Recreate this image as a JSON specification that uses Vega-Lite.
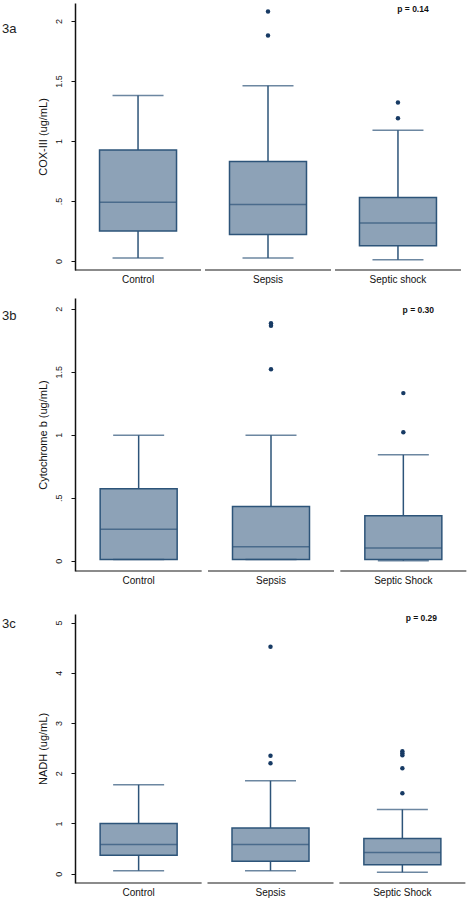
{
  "$schema": "https://vega.github.io/schema/vega-lite/v6.json",
  "padding": {"left": 2, "top": 3, "right": 4, "bottom": 2},
  "config": {
    "view": {"stroke": null},
    "font": "Liberation Sans",
    "axis": {"grid": false},
    "axisY": {"domainColor": "#111", "domainWidth": 1.5, "tickColor": "#111", "tickSize": 4, "tickWidth": 1, "labelAngle": -90, "labelFontSize": 9, "labelColor": "#111", "labelPadding": 8, "titleFontSize": 11, "titleFontWeight": "normal", "titleColor": "#111", "titlePadding": 6},
    "axisX": {"domain": false, "ticks": false, "tickSize": 0, "labelFontSize": 10, "labelColor": "#111", "labelPadding": 4, "labelAngle": 0},
    "title": {"fontSize": 13, "fontWeight": "normal", "color": "#222", "anchor": "start", "frame": "bounds", "offset": 0, "baseline": "middle"}
  },
  "spacing": 28,
  "vconcat": [
    {
      "spacing": 14,
      "vconcat": [
        {
          "width": 386, "height": 267,
          "title": {"text": "3a", "dx": -35, "dy": 37},
          "encoding": {"x": {"field": "group", "type": "nominal", "title": null, "scale": {"domain": ["Control", "Sepsis", "Septic shock"], "paddingInner": 0.03, "paddingOuter": 0}}},
          "layer": [
            {
              "data": {"values": [
                {"group": "Control", "lo": 0.025, "q1": 0.25, "med": 0.49, "q3": 0.925, "hi": 1.38},
                {"group": "Sepsis", "lo": 0.025, "q1": 0.22, "med": 0.47, "q3": 0.83, "hi": 1.46},
                {"group": "Septic shock", "lo": 0.01, "q1": 0.128, "med": 0.317, "q3": 0.53, "hi": 1.09}
              ]},
              "layer": [
                {"mark": {"type": "tick", "color": "#222", "thickness": 1.5, "size": 126},
                 "encoding": {"y": {"datum": -0.075, "type": "quantitative", "title": "COX-III (ug/mL)", "scale": {"domain": [-0.075, 2.15], "nice": false, "zero": false}, "axis": {"values": [0, 0.5, 1, 1.5, 2], "labelExpr": "datum.value == 0.5 ? '.5' : format(datum.value, '~g')"}}}},
                {"mark": {"type": "rule", "color": "#2d5479", "strokeWidth": 1.5},
                 "encoding": {"y": {"field": "lo", "type": "quantitative", "title": "COX-III (ug/mL)"}, "y2": {"field": "hi"}}},
                {"mark": {"type": "bar", "size": 77, "fill": "#8da2b7", "stroke": "#2d5479", "strokeWidth": 1.5},
                 "encoding": {"y": {"field": "q1", "type": "quantitative", "title": "COX-III (ug/mL)"}, "y2": {"field": "q3"}}},
                {"mark": {"type": "tick", "color": "#2d5479", "thickness": 1.5, "size": 77},
                 "encoding": {"y": {"field": "med", "type": "quantitative", "title": "COX-III (ug/mL)"}}},
                {"mark": {"type": "tick", "color": "#2d5479", "thickness": 1.5, "size": 51},
                 "encoding": {"y": {"field": "hi", "type": "quantitative", "title": "COX-III (ug/mL)"}}},
                {"mark": {"type": "tick", "color": "#2d5479", "thickness": 1.5, "size": 51},
                 "encoding": {"y": {"field": "lo", "type": "quantitative", "title": "COX-III (ug/mL)"}}}
              ]
            },
            {
              "data": {"values": [
                {"group": "Sepsis", "value": 2.08},
                {"group": "Sepsis", "value": 1.88},
                {"group": "Septic shock", "value": 1.32},
                {"group": "Septic shock", "value": 1.19}
              ]},
              "mark": {"type": "point", "filled": true, "shape": "circle", "size": 20, "color": "#173a64", "opacity": 1},
              "encoding": {"y": {"field": "value", "type": "quantitative", "title": "COX-III (ug/mL)"}}
            },
            {
              "data": {"values": [{"group": "Septic shock", "label": "p = 0.14"}]},
              "mark": {"type": "text", "fontSize": 8.5, "fontWeight": "bold", "color": "#111", "dx": 15},
              "encoding": {"y": {"datum": 2.1, "type": "quantitative"}, "text": {"field": "label"}}
            }
          ]
        },
        {
          "width": 392, "height": 273,
          "title": {"text": "3b", "dx": -35, "dy": 29},
          "encoding": {"x": {"field": "group", "type": "nominal", "title": null, "scale": {"domain": ["Control", "Sepsis", "Septic Shock"], "paddingInner": 0.038, "paddingOuter": 0}}},
          "layer": [
            {
              "data": {"values": [
                {"group": "Control", "lo": 0.01, "q1": 0.01, "med": 0.25, "q3": 0.57, "hi": 0.995},
                {"group": "Sepsis", "lo": 0.01, "q1": 0.01, "med": 0.11, "q3": 0.43, "hi": 0.995},
                {"group": "Septic Shock", "lo": 0.0, "q1": 0.01, "med": 0.1, "q3": 0.357, "hi": 0.84}
              ]},
              "layer": [
                {"mark": {"type": "tick", "color": "#222", "thickness": 1.5, "size": 126},
                 "encoding": {"y": {"datum": -0.082, "type": "quantitative", "title": "Cytochrome b (ug/mL)", "scale": {"domain": [-0.082, 2.085], "nice": false, "zero": false}, "axis": {"values": [0, 0.5, 1, 1.5, 2], "labelExpr": "datum.value == 0.5 ? '.5' : format(datum.value, '~g')"}}}},
                {"mark": {"type": "rule", "color": "#2d5479", "strokeWidth": 1.5},
                 "encoding": {"y": {"field": "lo", "type": "quantitative", "title": "Cytochrome b (ug/mL)"}, "y2": {"field": "hi"}}},
                {"mark": {"type": "bar", "size": 77, "fill": "#8da2b7", "stroke": "#2d5479", "strokeWidth": 1.5},
                 "encoding": {"y": {"field": "q1", "type": "quantitative", "title": "Cytochrome b (ug/mL)"}, "y2": {"field": "q3"}}},
                {"mark": {"type": "tick", "color": "#2d5479", "thickness": 1.5, "size": 77},
                 "encoding": {"y": {"field": "med", "type": "quantitative", "title": "Cytochrome b (ug/mL)"}}},
                {"mark": {"type": "tick", "color": "#2d5479", "thickness": 1.5, "size": 51},
                 "encoding": {"y": {"field": "hi", "type": "quantitative", "title": "Cytochrome b (ug/mL)"}}},
                {"mark": {"type": "tick", "color": "#2d5479", "thickness": 1.5, "size": 51},
                 "encoding": {"y": {"field": "lo", "type": "quantitative", "title": "Cytochrome b (ug/mL)"}}}
              ]
            },
            {
              "data": {"values": [
                {"group": "Sepsis", "value": 1.885},
                {"group": "Sepsis", "value": 1.865},
                {"group": "Sepsis", "value": 1.52},
                {"group": "Septic Shock", "value": 1.33},
                {"group": "Septic Shock", "value": 1.02}
              ]},
              "mark": {"type": "point", "filled": true, "shape": "circle", "size": 20, "color": "#173a64", "opacity": 1},
              "encoding": {"y": {"field": "value", "type": "quantitative", "title": "Cytochrome b (ug/mL)"}}
            },
            {
              "data": {"values": [{"group": "Septic Shock", "label": "p = 0.30"}]},
              "mark": {"type": "text", "fontSize": 8.5, "fontWeight": "bold", "color": "#111", "dx": 15},
              "encoding": {"y": {"datum": 1.99, "type": "quantitative"}, "text": {"field": "label"}}
            }
          ]
        }
      ]
    },
    {
      "width": 391, "height": 269,
      "title": {"text": "3c", "dx": -35, "dy": 21},
      "encoding": {"x": {"field": "group", "type": "nominal", "title": null, "scale": {"domain": ["Control", "Sepsis", "Septic Shock"], "paddingInner": 0.035, "paddingOuter": 0}}},
      "layer": [
        {
          "data": {"values": [
            {"group": "Control", "lo": 0.06, "q1": 0.365, "med": 0.58, "q3": 1.0, "hi": 1.77},
            {"group": "Sepsis", "lo": 0.06, "q1": 0.25, "med": 0.58, "q3": 0.91, "hi": 1.85},
            {"group": "Septic Shock", "lo": 0.03, "q1": 0.18, "med": 0.42, "q3": 0.7, "hi": 1.28}
          ]},
          "layer": [
            {"mark": {"type": "tick", "color": "#222", "thickness": 1.5, "size": 126},
             "encoding": {"y": {"datum": -0.185, "type": "quantitative", "title": "NADH (ug/mL)", "scale": {"domain": [-0.185, 5.17], "nice": false, "zero": false}, "axis": {"values": [0, 1, 2, 3, 4, 5]}}}},
            {"mark": {"type": "rule", "color": "#2d5479", "strokeWidth": 1.5},
             "encoding": {"y": {"field": "lo", "type": "quantitative", "title": "NADH (ug/mL)"}, "y2": {"field": "hi"}}},
            {"mark": {"type": "bar", "size": 77, "fill": "#8da2b7", "stroke": "#2d5479", "strokeWidth": 1.5},
             "encoding": {"y": {"field": "q1", "type": "quantitative", "title": "NADH (ug/mL)"}, "y2": {"field": "q3"}}},
            {"mark": {"type": "tick", "color": "#2d5479", "thickness": 1.5, "size": 77},
             "encoding": {"y": {"field": "med", "type": "quantitative", "title": "NADH (ug/mL)"}}},
            {"mark": {"type": "tick", "color": "#2d5479", "thickness": 1.5, "size": 51},
             "encoding": {"y": {"field": "hi", "type": "quantitative", "title": "NADH (ug/mL)"}}},
            {"mark": {"type": "tick", "color": "#2d5479", "thickness": 1.5, "size": 51},
             "encoding": {"y": {"field": "lo", "type": "quantitative", "title": "NADH (ug/mL)"}}}
          ]
        },
        {
          "data": {"values": [
            {"group": "Sepsis", "value": 4.52},
            {"group": "Sepsis", "value": 2.35},
            {"group": "Sepsis", "value": 2.2},
            {"group": "Septic Shock", "value": 2.44},
            {"group": "Septic Shock", "value": 2.4},
            {"group": "Septic Shock", "value": 2.36},
            {"group": "Septic Shock", "value": 2.1},
            {"group": "Septic Shock", "value": 1.6}
          ]},
          "mark": {"type": "point", "filled": true, "shape": "circle", "size": 20, "color": "#173a64", "opacity": 1},
          "encoding": {"y": {"field": "value", "type": "quantitative", "title": "NADH (ug/mL)"}}
        },
        {
          "data": {"values": [{"group": "Septic Shock", "label": "p = 0.29"}]},
          "mark": {"type": "text", "fontSize": 8.5, "fontWeight": "bold", "color": "#111", "dx": 19},
          "encoding": {"y": {"datum": 5.1, "type": "quantitative"}, "text": {"field": "label"}}
        }
      ]
    }
  ]
}
